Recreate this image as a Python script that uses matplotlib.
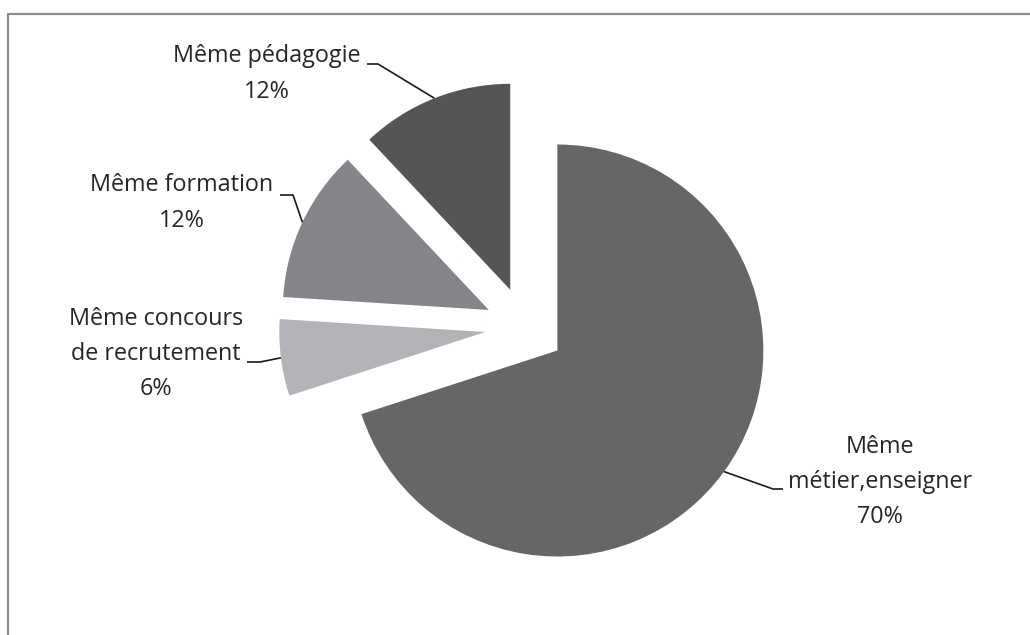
import numpy as np
import matplotlib
matplotlib.use("Agg")
import matplotlib.pyplot as plt
from matplotlib.lines import Line2D

# ── DATA ───────────────────────────────────────────────────
names  = ["Même\nmétier,enseigner", "Même concours\nde recrutement",
          "Même formation", "Même pédagogie"]
values = [70, 6, 12, 12]
colors = ["#666668", "#b2b3b6", "#848589", "#545557"]

# ── LAYOUT (pixels, y from top) ────────────────────────────
W, H = 1030, 635
CENTER = (525, 327)
RADIUS = 206
EXPLODE = 40          # pie() offsets slices in data units, here pixels
text_xy = [(880, 482), (156, 354), (182, 203), (267, 74)]
elbow   = [(773, 489), (260, 362), (293, 195), (378, 64)]
tail    = [(783, 489), (247, 362), (280, 195), (367, 64)]
TEXT = "#262626"

plt.rcParams["font.family"] = ["Open Sans", "DejaVu Sans"]

fig = plt.figure(figsize=(W / 100, H / 100), dpi=100)
ax = fig.add_axes([0, 0, 1, 1])

wedges, _ = ax.pie(values, colors=colors, startangle=90, counterclock=False,
                   explode=[EXPLODE] * len(values), radius=RADIUS,
                   center=(CENTER[0], H - CENTER[1]),
                   wedgeprops=dict(linewidth=0))
ax.set_xlim(0, W)
ax.set_ylim(0, H)
ax.set_aspect("auto")
ax.axis("off")

for w, name, v, txy, el, tl in zip(wedges, names, values, text_xy, elbow, tail):
    mid = np.deg2rad((w.theta1 + w.theta2) / 2)
    px = w.center[0] + w.r * np.cos(mid)
    py = w.center[1] + w.r * np.sin(mid)
    ax.plot([px, el[0], tl[0]], [py, H - el[1], H - tl[1]],
            color="#1a1a1a", lw=1.2, solid_capstyle="butt")
    ax.text(txy[0], H - txy[1], f"{name}\n{v}%", ha="center", va="center",
            fontsize=16.8, color=TEXT, linespacing=1.62)

# chart frame (only top and left edges show)
fig.add_artist(Line2D([8 / W, 8 / W, 1], [0, 1 - 14 / H, 1 - 14 / H],
                      color="#8c8c8c", lw=1.6))

fig.savefig("out.png", dpi=100)
